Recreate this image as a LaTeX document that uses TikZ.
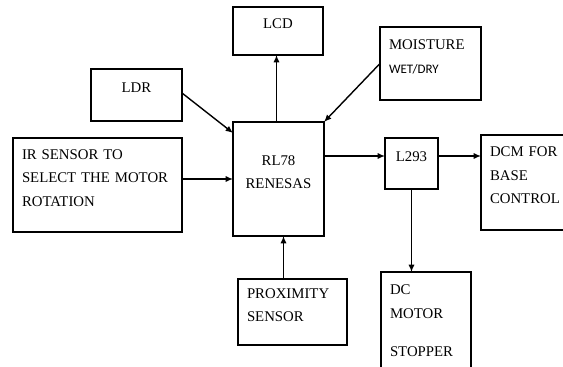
\documentclass[tikz,border=0pt]{standalone}
\usepackage{fontspec}
\setmainfont{Liberation Serif}
\newfontfamily\wdfont{Carlito}
\usetikzlibrary{arrows.meta,positioning}

\begin{document}
\begin{tikzpicture}[
  x=1pt, y=-1pt,
  box/.style={draw, line width=1.6pt, outer sep=0pt, inner xsep=9pt, inner ysep=2pt, text depth=14pt,
    font=\fontsize{14.8}{23.5}\selectfont},
  lbox/.style={box, align=left},
  cbox/.style={box, align=center},
  arrow/.style={-{Latex[length=2.6mm,width=2.2mm]}, line width=1.4pt}
]
\useasboundingbox (0,0) rectangle (563,367);
\clip (0,0) rectangle (563,367);
\node[cbox, minimum width=90pt, minimum height=48pt, text width=72pt] (lcd) at (278,31) {LCD};
\node[cbox, minimum width=91pt, minimum height=52pt, text width=73pt] (ldr) at (136.5,95) {LDR};
\node[lbox, minimum width=169pt, minimum height=94pt, text width=151pt, text depth=61pt] (ir) at (97.5,185)
  {IR SENSOR TO\\SELECT THE MOTOR\\ROTATION};
\node[cbox, minimum width=91pt, minimum height=114pt, text width=73pt, text depth=37.5pt] (mcu) at (278.5,179)
  {RL78\\RENESAS};
\node[lbox, minimum width=101pt, minimum height=73pt, text width=83pt, text depth=37.5pt] (moist) at (430.5,63.5)
  {MOISTURE\\{\wdfont\fontsize{13}{23.5}\selectfont WET/DRY}};
\node[cbox, minimum width=53pt, minimum height=51pt, text width=35pt] (drv) at (411.5,163.5) {L293};
\node[lbox, minimum width=95pt, minimum height=95pt, text width=77pt, text depth=61pt] (dcm) at (528.5,182.5)
  {DCM FOR\\BASE\\CONTROL};
\node[lbox, minimum width=109pt, minimum height=66pt, text width=91pt, text depth=37.5pt] (prox) at (292.5,312)
  {PROXIMITY\\SENSOR};
\node[lbox, minimum width=90pt, minimum height=112pt, text width=72pt, text depth=76pt] (stop) at (426,328)
  {DC\\MOTOR\\[15pt]STOPPER};
\coordinate (lnk) at ([yshift=7.5pt]drv.west);
\draw[arrow] ([xshift=-2pt]mcu.north) -- ([xshift=-2pt]mcu.north |- lcd.south);
\draw[arrow] ([yshift=2pt]ldr.east) -- ([yshift=-11pt]mcu.north west);
\draw[arrow] (ir.east |- mcu.west) -- (mcu.west);
\draw[arrow] (moist.west) -- (mcu.north east);
\draw[arrow] (mcu.east |- lnk) -- (lnk);
\draw[arrow] (drv.east |- lnk) -- (dcm.west |- lnk);
\draw[arrow] (drv.south) -- (drv.south |- stop.north);
\draw[arrow] ([xshift=5pt]mcu.south |- prox.north) -- ([xshift=5pt]mcu.south);
\end{tikzpicture}
\end{document}
